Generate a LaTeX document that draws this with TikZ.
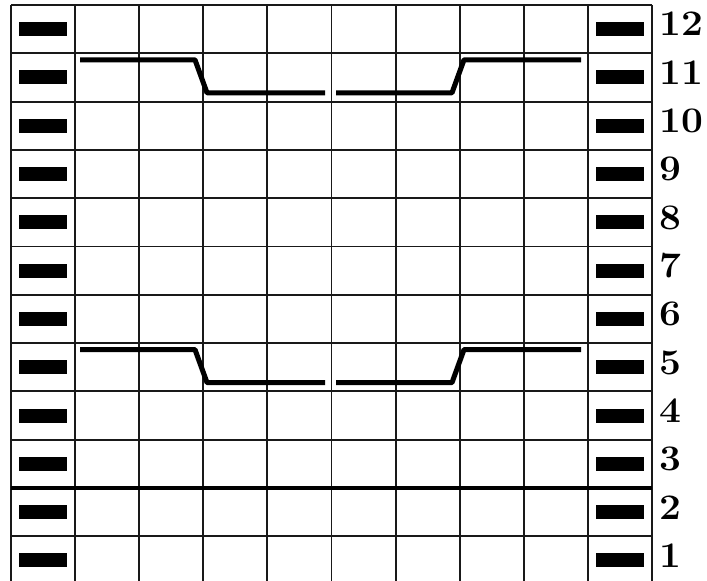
\documentclass[tikz,border=0pt]{standalone}
\usepackage{tikz}
\begin{document}
\begin{tikzpicture}[
    x=0.75pt, y=-0.75pt,
    gridline/.style={line width=1.4pt, color=black!90},
    heavyline/.style={line width=2.4pt, color=black},
    purlbar/.style={rectangle, fill=black, minimum width=36pt, minimum height=10.5pt, inner sep=0pt},
    cable/.style={line width=3.8pt, line join=round},
    rowlabel/.style={anchor=base west, inner sep=0pt, xscale=1.08, font=\bfseries\fontsize{27}{27}\selectfont}
  ]
  \useasboundingbox (0,0) rectangle (707,581);
  % grid
  \foreach \i in {0,...,10}
    \draw[gridline] ({11+64.1*\i},5) -- ({11+64.1*\i},581);
  \foreach \j in {0,...,11}
    \draw[gridline] (11,{5+48.3*\j}) -- (652,{5+48.3*\j});
  \draw[heavyline] (11,488) -- (652,488);
  % purl bars and row numbers
  \foreach \k in {1,...,12} {
    \node[purlbar] (left\k) at (43,{5+48.3*(12-\k)+24.15}) {};
    \node[purlbar] (right\k) at (620,{5+48.3*(12-\k)+24.15}) {};
    \node[rowlabel] (row\k) at (659,{5+48.3*(12-\k)+31}) {\k};
  }
  % cables on rows 11 and 5
  \foreach \t in {53.3,343.1} {
    \draw[cable] (80,\t+6.5) -- (195,\t+6.5) -- (207,\t+39.5) -- (325,\t+39.5);
    \draw[cable] (336,\t+39.5) -- (452,\t+39.5) -- (464,\t+6.5) -- (581,\t+6.5);
  }
\end{tikzpicture}
\end{document}
